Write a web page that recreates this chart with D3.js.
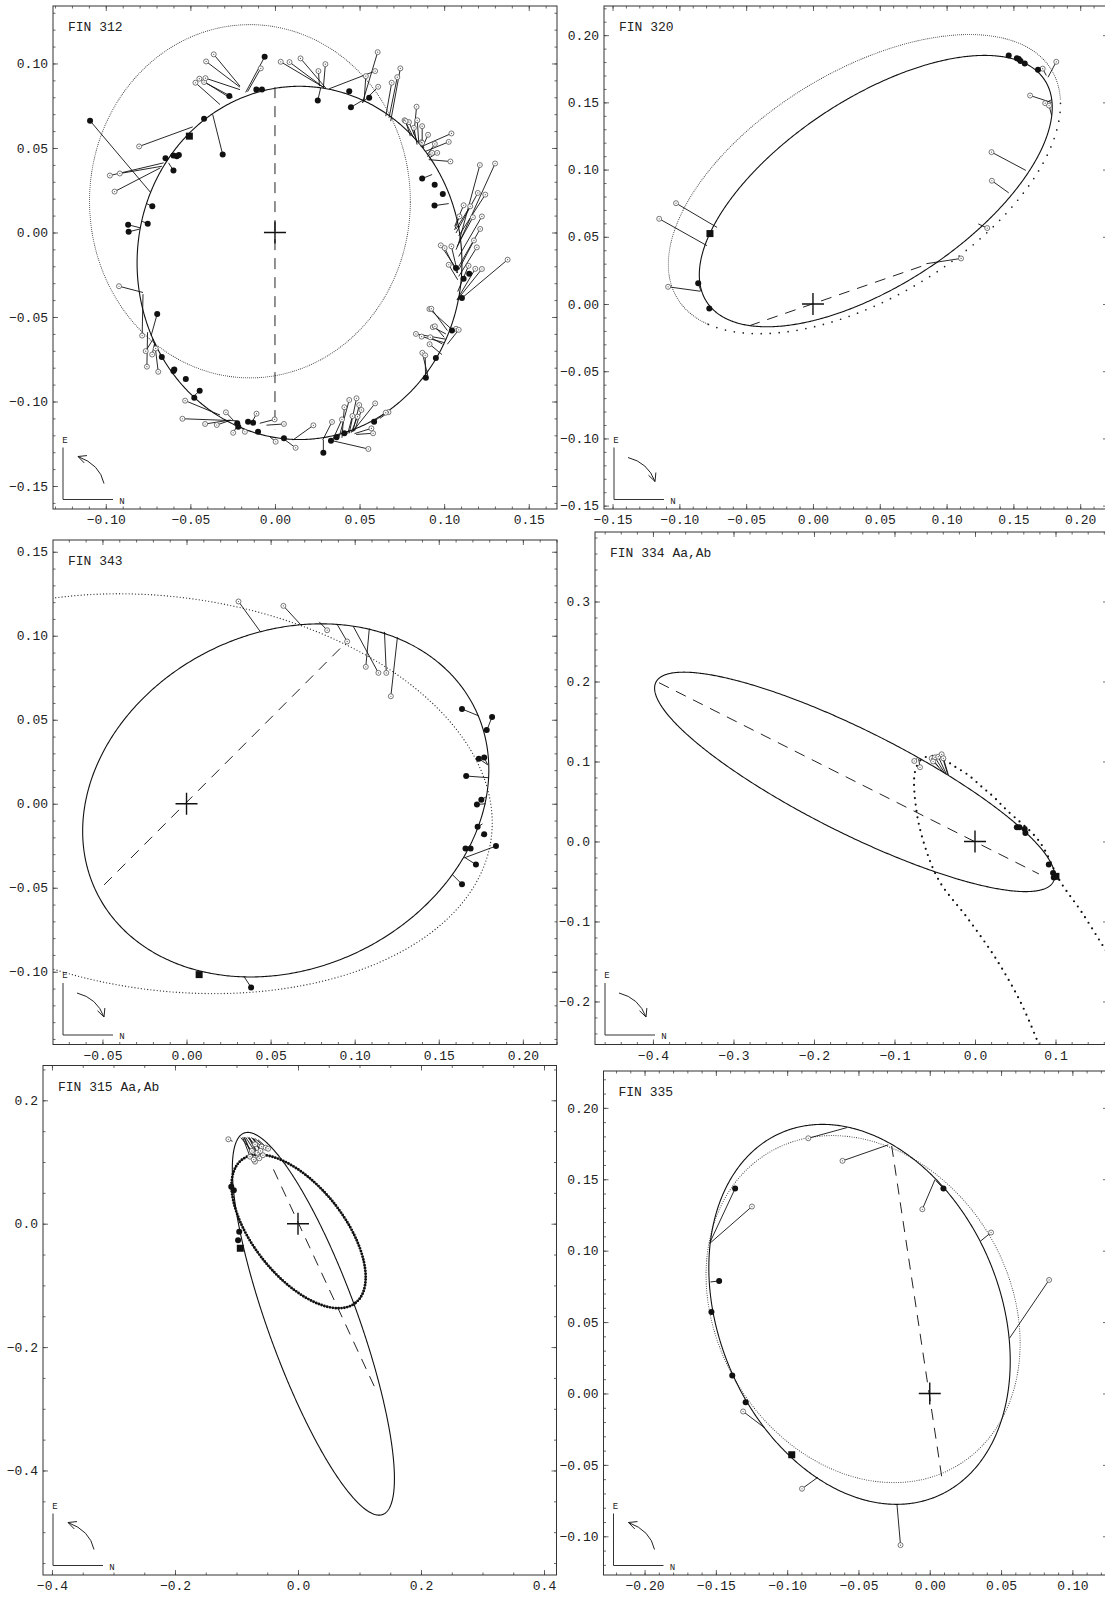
<!DOCTYPE html>
<html>
<head>
<meta charset="utf-8">
<script src="https://cdn.jsdelivr.net/npm/d3@7"></script>
<style>
body { margin: 0; background: #fff; }
text { font-family: "Liberation Mono", "DejaVu Sans Mono", monospace; fill: #222; }
</style>
</head>
<body>
<svg id="fig" width="1105" height="1597"></svg>
<script>
// panel names and axis ranges
var panelNames = ["FIN 312", "FIN 320", "FIN 343", "FIN 334 Aa,Ab", "FIN 315 Aa,Ab", "FIN 335"];
var xRanges = [[-0.1312, 0.1667], [-0.1564, 0.2208], [-0.0794, 0.2203], [-0.472, 0.1652], [-0.4146, 0.4203], [-0.2288, 0.125]];
var yRanges = [[-0.1636, 0.1340], [-0.1525, 0.2217], [-0.1433, 0.157], [-0.2538, 0.3869], [-0.5694, 0.2564], [-0.1271, 0.2258]];

// tick labels
var xTickValues = [
  [-0.10, -0.05, 0, 0.05, 0.10, 0.15],
  [-0.15, -0.10, -0.05, 0, 0.05, 0.10, 0.15, 0.20],
  [-0.05, 0, 0.05, 0.10, 0.15, 0.20],
  [-0.4, -0.3, -0.2, -0.1, 0, 0.1],
  [-0.4, -0.2, 0, 0.2, 0.4],
  [-0.20, -0.15, -0.10, -0.05, 0, 0.05, 0.10]
];
var yTickValues = [
  [-0.15, -0.10, -0.05, 0, 0.05, 0.10],
  [-0.15, -0.10, -0.05, 0, 0.05, 0.10, 0.15, 0.20],
  [-0.10, -0.05, 0, 0.05, 0.10, 0.15],
  [-0.2, -0.1, 0, 0.1, 0.2, 0.3],
  [-0.4, -0.2, 0, 0.2],
  [-0.10, -0.05, 0, 0.05, 0.10, 0.15, 0.20]
];
var minorSteps = [0.01, 0.01, 0.01, 0.02, 0.05, 0.01];
var labelDigits = [2, 2, 2, 1, 1, 2];

// apparent orbits: [cx, cy, semi-axis a, semi-axis b, angle deg]
var newOrbit = [
  [0.0145, -0.018, 0.096, 0.1045, 0],
  [0.047, 0.084, 0.151, 0.0695, 33.1],
  [0.059, 0.002, 0.1251, 0.0999, 25.7],
  [-0.1495, 0.0745, 0.2765, 0.0641, -26.8],
  [0.025, -0.1622, 0.329, 0.073, -70],
  [-0.04925, 0.0554, 0.1385, 0.0984, -66.7]
];
var oldOrbit = [
  [-0.0148, 0.0185, 0.0948, 0.1045, 0],
  [0.0385, 0.0892, 0.1638, 0.0842, 31.2],
  [-0.012, 0.006, 0.195, 0.117, -8],
  null,
  [0.001, -0.0125, 0.1483, 0.0735, -51.3],
  [-0.04675, 0.0591, 0.128, 0.1025, -58.3]
];
// previous orbit of FIN 334, only its inner part is in the frame
var oldTrace334 = [[0.0794, -0.254], [0.0573, -0.2023], [0.0265, -0.1473], [-0.0088, -0.0965], [-0.0441, -0.0499],
  [-0.0617, -0.0076], [-0.0728, 0.0389], [-0.0745, 0.0873], [-0.066, 0.103], [-0.05, 0.107], [-0.0332, 0.099],
  [-0.0248, 0.0935], [-0.0083, 0.083], [0.0083, 0.0685], [0.0228, 0.056], [0.0397, 0.0389], [0.0794, 0.0008],
  [0.1058, -0.0499], [0.1323, -0.088], [0.1588, -0.1303], [0.17, -0.148]];

// line of nodes [x1, y1, x2, y2]
var nodeLine = [
  [0, 0.086, 0, -0.1165],
  [-0.0477, -0.0162, 0.0862, 0.0298],
  [-0.049, -0.0483, 0.0955, 0.0966],
  [-0.3925, 0.1985, 0.0794, -0.0406],
  [-0.0399, 0.088, 0.1273, -0.2706],
  [-0.0267, 0.1733, 0.0091, -0.063]
];
var motion = ["ccw", "cw", "cw", "cw", "ccw", "ccw"];

// observations [x, y, orbit x, orbit y]
var open312 = [
  [-0.0362,0.1054,-0.0207,0.0866],[-0.0407,0.1012,-0.0207,0.0860],[-0.0470,0.0886,-0.0325,0.0757],[-0.0447,0.0910,-0.0266,0.0797],
  [-0.0419,0.0890,-0.0250,0.0800],[-0.0411,0.0913,-0.0207,0.0845],[-0.0084,0.0971,-0.0162,0.0833],[-0.0803,0.0509,-0.0486,0.0625],
  [-0.0976,0.0337,-0.0658,0.0412],[-0.0917,0.0349,-0.0668,0.0392],[-0.0948,0.0242,-0.0678,0.0382],[-0.0922,-0.0318,-0.0780,-0.0355],
  [-0.0785,-0.0610,-0.0780,-0.0365],[-0.0757,-0.0794,-0.0753,-0.0590],[-0.0764,-0.0702,-0.0720,-0.0630],[-0.0726,-0.0722,-0.0710,-0.0650],
  [-0.0690,-0.0824,-0.0710,-0.0660],[-0.0705,-0.0686,-0.0720,-0.0630],
  [0.0034,0.1010,0.0292,0.0856],[0.0086,0.1008,0.0290,0.0856],[0.0151,0.1030,0.0300,0.0855],[0.0257,0.0955,0.0263,0.0866],
  [0.0298,0.0996,0.0286,0.0856],[0.0607,0.1067,0.0517,0.0767],[0.0592,0.0955,0.0320,0.0850],[0.0610,0.0862,0.0517,0.0767],
  [0.0537,0.0925,0.0527,0.0777],[0.0690,0.0886,0.0655,0.0688],[0.0723,0.0919,0.0674,0.0679],[0.0741,0.0971,0.0684,0.0659],
  [0.0837,0.0744,0.0821,0.0580],[0.0766,0.0664,0.0820,0.0560],[0.0792,0.0653,0.0840,0.0540],[0.0841,0.0664,0.0850,0.0530],
  [0.0870,0.0629,0.0870,0.0510],[0.0821,0.0619,0.0840,0.0520],[0.0866,0.0534,0.0880,0.0500],[0.1043,0.0586,0.0870,0.0510],
  [0.1027,0.0536,0.0890,0.0480],[0.0905,0.0578,0.0870,0.0500],[0.0945,0.0524,0.0900,0.0460],[0.1037,0.0420,0.0909,0.0431],
  [0.0959,0.0471,0.0910,0.0440],[0.0929,0.0471,0.0900,0.0450],[0.0870,0.0530,0.0860,0.0510],[0.0772,0.0659,0.0800,0.0570],
  [0.1211,0.0399,0.1086,-0.0062],[0.1301,0.0408,0.1070,-0.0102],[0.1199,0.0234,0.1070,-0.0003],[0.1243,0.0224,0.1086,-0.0020],
  [0.1115,0.0161,0.1062,0.0036],[0.1154,0.0155,0.1070,0.0020],[0.1090,0.0095,0.1062,0.0015],[0.1170,0.0090,0.1076,-0.0082],
  [0.1223,0.0095,0.1086,-0.0142],[0.1213,0.0021,0.1086,-0.0201],[0.1176,-0.0047,0.1086,-0.0221],[0.1193,-0.0088,0.1086,-0.0260],
  [0.0980,-0.0076,0.1076,-0.0220],[0.1003,-0.0092,0.1076,-0.0240],[0.1043,-0.0082,0.1080,-0.0240],[0.1027,-0.0191,0.1080,-0.0280],
  [0.1184,-0.0215,0.1076,-0.0398],[0.1223,-0.0216,0.1076,-0.0400],[0.1375,-0.0161,0.1105,-0.0388],[0.1144,-0.0197,0.1080,-0.0350],
  [0.0913,-0.0453,0.1037,-0.0566],[0.0933,-0.0560,0.1010,-0.0600],[0.1070,-0.0570,0.1030,-0.0580],
  [0.0924,-0.0451,0.1019,-0.0580],[0.0945,-0.0555,0.1000,-0.0620],[0.1086,-0.0576,0.1019,-0.0661],[0.0833,-0.0600,0.1008,-0.0631],
  [0.0867,-0.0616,0.0998,-0.0651],[0.0918,-0.0620,0.0990,-0.0660],[0.0914,-0.0661,0.0987,-0.0722],[0.0871,-0.0712,0.0903,-0.0845],
  [0.0888,-0.0727,0.0890,-0.0855],[0.0671,-0.1063,0.0620,-0.1100],
  [-0.0531,-0.0995,-0.0325,-0.1080],[-0.0547,-0.1102,-0.0227,-0.1114],[-0.0413,-0.1133,-0.0266,-0.1110],[-0.0344,-0.1139,-0.0260,-0.1110],
  [-0.0290,-0.1064,-0.0247,-0.1110],[-0.0247,-0.1185,-0.0220,-0.1140],[-0.0178,-0.1179,-0.0200,-0.1150],[-0.0109,-0.1072,-0.0139,-0.1129],
  [-0.0002,-0.1106,-0.0090,-0.1129],[0.0053,-0.1133,-0.0050,-0.1140],[0.0004,-0.1238,-0.0031,-0.1208],[0.0122,-0.1274,0.0047,-0.1218],
  [0.0227,-0.1141,0.0106,-0.1228],[0.0337,-0.1121,0.0282,-0.1228],[0.0396,-0.1106,0.0341,-0.1228],[0.0439,-0.0991,0.0380,-0.1208],
  [0.0482,-0.0981,0.0439,-0.1188],[0.0410,-0.1034,0.0396,-0.1215],[0.0498,-0.1021,0.0460,-0.1180],[0.0511,-0.1050,0.0470,-0.1175],
  [0.0592,-0.1011,0.0458,-0.1179],[0.0655,-0.1066,0.0596,-0.1110],[0.0570,-0.1159,0.0470,-0.1190],[0.0580,-0.1188,0.0480,-0.1195],
  [0.0552,-0.1281,0.0322,-0.1228],[0.0488,-0.1090,0.0450,-0.1185],[0.0458,-0.1086,0.0430,-0.1190]
];
var filled312 = [
  [-0.1093,0.0661,-0.0736,0.0238],[-0.0061,0.1039,-0.0173,0.0829],[-0.0270,0.0807,-0.0262,0.0800],[-0.0110,0.0846,-0.0110,0.0846],
  [-0.0077,0.0846,-0.0077,0.0846],[-0.0419,0.0673,-0.0419,0.0673],[-0.0309,0.0461,-0.0368,0.0698],[-0.0647,0.0439,-0.0647,0.0439],
  [-0.0600,0.0455,-0.0610,0.0440],[-0.0580,0.0451,-0.0600,0.0445],[-0.0568,0.0459,-0.0590,0.0450],[-0.0600,0.0366,-0.0629,0.0412],
  [-0.0725,0.0155,-0.0760,0.0171],[-0.0868,0.0046,-0.0795,0.0027],[-0.0752,0.0052,-0.0785,0.0066],[-0.0865,0.0004,-0.0800,0.0020],
  [-0.0696,-0.0482,-0.0732,-0.0610],[-0.0669,-0.0737,-0.0680,-0.0720],[-0.0595,-0.0810,-0.0610,-0.0800],[-0.0527,-0.0867,-0.0540,-0.0880],
  [-0.0445,-0.0937,-0.0472,-0.0961],[-0.0477,-0.0978,-0.0480,-0.0970],[-0.0600,-0.0819,-0.0600,-0.0819],[-0.0223,-0.1129,-0.0223,-0.1129],
  [-0.0217,-0.1149,-0.0217,-0.1149],[-0.0159,-0.1120,-0.0159,-0.1120],[-0.0129,-0.1126,-0.0129,-0.1126],[-0.0100,-0.1179,-0.0100,-0.1179],
  [0.0053,-0.1218,0.0053,-0.1218],[0.0286,-0.1303,0.0286,-0.1228],[0.0331,-0.1232,0.0331,-0.1232],[0.0364,-0.1212,0.0364,-0.1212],
  [0.0410,-0.1188,0.0410,-0.1188],[0.0586,-0.1120,0.0586,-0.1120],[0.0892,-0.0859,0.0892,-0.0859],[0.0951,-0.0743,0.0951,-0.0743],
  [0.1046,-0.0580,0.1046,-0.0580],[0.1070,-0.0210,0.1070,-0.0210],[0.1148,-0.0244,0.1148,-0.0244],[0.1115,-0.0274,0.1115,-0.0274],
  [0.1105,-0.0388,0.1105,-0.0388],[0.0870,0.0319,0.0929,0.0343],[0.0944,0.0283,0.0944,0.0283],[0.0992,0.0228,0.0992,0.0228],
  [0.0943,0.0159,0.1027,0.0171],[0.0253,0.0781,0.0270,0.0855],[0.0439,0.0836,0.0439,0.0836],[0.0449,0.0741,0.0527,0.0787],
  [0.0557,0.0797,0.0557,0.0797]
];
var square312 = [[-0.0506, 0.057]];

var open320 = [
  [-0.1025,0.0750,-0.0718,0.0570],[-0.1151,0.0634,-0.0793,0.0434],[-0.1084,0.0128,-0.0843,0.0095],[0.1719,0.1751,0.1746,0.1700],
  [0.1821,0.1802,0.1759,0.1687],[0.1625,0.1551,0.1786,0.1499],[0.1738,0.1494,0.1786,0.1520],[0.1767,0.1476,0.1786,0.1404],
  [0.1336,0.1130,0.1593,0.0994],[0.1339,0.0917,0.1465,0.0827],[0.1304,0.0565,0.1237,0.0596],[0.1108,0.0339,0.0849,0.0300]
];
var filled320 = [
  [0.1465,0.1849,0.1465,0.1849],[0.1526,0.1828,0.1526,0.1828],[0.1540,0.1823,0.1540,0.1823],[0.1553,0.1807,0.1553,0.1807],
  [0.1585,0.1790,0.1585,0.1790],[0.1684,0.1743,0.1684,0.1743],[-0.0859,0.0154,-0.0838,0.0095],[-0.0776,-0.0033,-0.0776,-0.0033]
];
var square320 = [[-0.0771, 0.0524]];

var open343 = [
  [0.0309,0.1204,0.0437,0.1027],[0.0576,0.1178,0.0678,0.1067],[0.0836,0.1033,0.0789,0.1083],[0.0955,0.0966,0.0896,0.1067],
  [0.1066,0.0815,0.1087,0.1043],[0.1141,0.0779,0.0991,0.1057],[0.1188,0.0779,0.1177,0.1023],[0.1215,0.0640,0.1254,0.0991]
];
var filled343 = [
  [0.1638,0.0564,0.1738,0.0523],[0.1817,0.0517,0.1780,0.0423],[0.1785,0.0439,0.1785,0.0439],[0.1738,0.0268,0.1791,0.0232],
  [0.1770,0.0276,0.1791,0.0232],[0.1663,0.0165,0.1795,0.0155],[0.1753,0.0024,0.1780,0.0040],[0.1727,-0.0004,0.1780,0.0000],
  [0.1731,-0.0137,0.1760,-0.0120],[0.1770,-0.0181,0.1750,-0.0190],[0.1659,-0.0266,0.1700,-0.0280],[0.1689,-0.0266,0.1700,-0.0280],
  [0.1721,-0.0362,0.1652,-0.0318],[0.1840,-0.0252,0.1652,-0.0322],[0.1638,-0.0479,0.1582,-0.0423],[0.0384,-0.1093,0.0341,-0.1027]
];
var square343 = [[0.0075, -0.1017]];

var open334 = [
  [-0.0754,0.1006,-0.0714,0.1042],[-0.0683,0.0928,-0.0700,0.1035],[-0.0538,0.1040,-0.0410,0.0880],[-0.0497,0.1052,-0.0380,0.0860],
  [-0.0456,0.1060,-0.0360,0.0850],[-0.0414,0.1090,-0.0340,0.0840],[-0.0393,0.1040,-0.0330,0.0830],[-0.0520,0.1000,-0.0450,0.0930]
];
var filled334 = [
  [0.0520,0.0178,0.0520,0.0178],[0.0551,0.0178,0.0551,0.0178],[0.0617,0.0157,0.0617,0.0157],[0.0626,0.0106,0.0626,0.0106],
  [0.0917,-0.0288,0.0917,-0.0288],[0.0970,-0.0394,0.0970,-0.0394],[0.0979,-0.0449,0.0979,-0.0449]
];
var square334 = [[0.1005, -0.0436]];

var open315 = [
  [-0.1133,0.1368,-0.1065,0.1335],[-0.0699,0.1287,-0.0820,0.1400],[-0.0590,0.1248,-0.0760,0.1395],[-0.0525,0.1232,-0.0700,0.1380],
  [-0.0780,0.1086,-0.0900,0.1400],[-0.0646,0.1086,-0.0850,0.1400],[-0.0699,0.1005,-0.0870,0.1400],[-0.0629,0.1060,-0.0800,0.1395],
  [-0.0720,0.1040,-0.0880,0.1400],[-0.0570,0.1110,-0.0740,0.1390],[-0.0485,0.1215,-0.0650,0.1360],[-0.0750,0.1180,-0.0930,0.1395],
  [-0.0660,0.1150,-0.0790,0.1398],[-0.0610,0.1180,-0.0720,0.1385]
];
var filled315 = [
  [-0.1085,0.0599,-0.1085,0.0599],[-0.1044,0.0543,-0.1044,0.0543],[-0.0956,-0.0129,-0.0956,-0.0129],[-0.0974,-0.0269,-0.0974,-0.0269]
];
var square315 = [[-0.0938, -0.0398]];

var open335 = [
  [-0.0852,0.1787,-0.0580,0.1862],[-0.0612,0.1629,-0.0291,0.1741],[-0.1247,0.1309,-0.1538,0.1055],[-0.0052,0.1290,0.0037,0.1498],
  [0.0430,0.1127,0.0356,0.1067],[0.0837,0.0795,0.0560,0.0388],[-0.1309,-0.0126,-0.1156,-0.0242],[-0.0896,-0.0667,-0.0785,-0.0587],
  [-0.0205,-0.1062,-0.0230,-0.0776]
];
var filled335 = [
  [-0.1365,0.1435,-0.1545,0.1050],[-0.1477,0.0788,-0.1538,0.0781],[-0.1531,0.0570,-0.1531,0.0570],[-0.1385,0.0126,-0.1385,0.0126],
  [-0.1291,-0.0061,-0.1291,-0.0061],[0.0096,0.1435,0.0042,0.1491]
];
var square335 = [[-0.0968, -0.0429]];

var openObs = [open312, open320, open343, open334, open315, open335];
var filledObs = [filled312, filled320, filled343, filled334, filled315, filled335];
var squareObs = [square312, square320, square343, square334, square315, square335];

// layout and styles
var frames = [
  { x0: 53, x1: 557, y0: 6, y1: 509 },
  { x0: 604, x1: 1108, y0: 6, y1: 509 },
  { x0: 53, x1: 557, y0: 540, y1: 1044.5 },
  { x0: 595, x1: 1108, y0: 532, y1: 1044.5 },
  { x0: 43, x1: 556.5, y0: 1065.5, y1: 1575 },
  { x0: 603.5, x1: 1108, y0: 1071, y1: 1575 }
];
// dotted old orbit arcs: [t0, t1, dot size, spacing, color]
var dotStyle = [
  [[0, 360, 1.1, 2.0, "#444"]],
  [[-160, -15, 1.7, 9, "#222"], [-15, 200, 1.1, 2.0, "#444"]],
  [[0, 360, 1.3, 3.2, "#333"]],
  [],
  [[0, 360, 2.9, 2.9, "#111"]],
  [[0, 360, 1.1, 2.3, "#444"]]
];

var svg = d3.select("#fig");
svg.append("rect").attr("width", 1105).attr("height", 1597).attr("fill", "#fff");

function ellipsePoints(e, t0, t1) {
  var phi = e[4] * Math.PI / 180, c = Math.cos(phi), s = Math.sin(phi);
  return d3.range(t0, t1 + 0.001, 0.5).map(function (td) {
    var t = td * Math.PI / 180, u = e[2] * Math.cos(t), v = e[3] * Math.sin(t);
    return [e[0] + u * c - v * s, e[1] + u * s + v * c];
  });
}

function minorTicks(dom, step) {
  var lo = Math.ceil(dom[0] / step - 1e-9), hi = Math.floor(dom[1] / step + 1e-9);
  return d3.range(lo, hi + 1).map(function (k) { return +(k * step).toFixed(6); });
}

panelNames.forEach(function (name, i) {
  var f = frames[i];
  var x = d3.scaleLinear().domain(xRanges[i]).range([f.x0, f.x1]);
  var y = d3.scaleLinear().domain(yRanges[i]).range([f.y1, f.y0]);
  var g = svg.append("g");
  var fmt = function (d) { return d3.format("." + labelDigits[i] + "f")(d); };

  g.append("clipPath").attr("id", "clip" + i)
    .append("rect").attr("x", f.x0).attr("y", f.y0).attr("width", f.x1 - f.x0).attr("height", f.y1 - f.y0);

  // axes: inward ticks on all four sides, labels left and bottom
  var mx = minorTicks(xRanges[i], minorSteps[i]);
  var my = minorTicks(yRanges[i], minorSteps[i]);
  function styleAxis(sel) {
    sel.select(".domain").remove();
    sel.selectAll(".tick line").attr("stroke", "#444").attr("stroke-width", 0.8);
    sel.selectAll("text").attr("font-family", "Liberation Mono").attr("font-size", 13).attr("fill", "#222");
  }
  g.append("g").attr("transform", "translate(0," + f.y1 + ")")
    .call(d3.axisBottom(x).tickValues(mx).tickSize(-2.5).tickFormat("")).call(styleAxis);
  g.append("g").attr("transform", "translate(0," + f.y1 + ")")
    .call(d3.axisBottom(x).tickValues(xTickValues[i]).tickSize(-5).tickPadding(6).tickFormat(fmt)).call(styleAxis);
  g.append("g").attr("transform", "translate(0," + f.y0 + ")")
    .call(d3.axisTop(x).tickValues(mx).tickSize(-2.5).tickFormat("")).call(styleAxis);
  g.append("g").attr("transform", "translate(0," + f.y0 + ")")
    .call(d3.axisTop(x).tickValues(xTickValues[i]).tickSize(-5).tickFormat("")).call(styleAxis);
  g.append("g").attr("transform", "translate(" + f.x0 + ",0)")
    .call(d3.axisLeft(y).tickValues(my).tickSize(-2.5).tickFormat("")).call(styleAxis);
  g.append("g").attr("transform", "translate(" + f.x0 + ",0)")
    .call(d3.axisLeft(y).tickValues(yTickValues[i]).tickSize(-5).tickPadding(5).tickFormat(fmt)).call(styleAxis);
  g.append("g").attr("transform", "translate(" + f.x1 + ",0)")
    .call(d3.axisRight(y).tickValues(my).tickSize(-2.5).tickFormat("")).call(styleAxis);
  g.append("g").attr("transform", "translate(" + f.x1 + ",0)")
    .call(d3.axisRight(y).tickValues(yTickValues[i]).tickSize(-5).tickFormat("")).call(styleAxis);

  g.append("rect").attr("x", f.x0).attr("y", f.y0).attr("width", f.x1 - f.x0).attr("height", f.y1 - f.y0)
    .attr("fill", "none").attr("stroke", "#333").attr("stroke-width", 1);

  var plot = g.append("g").attr("clip-path", "url(#clip" + i + ")");
  var line = d3.line().x(function (d) { return x(d[0]); }).y(function (d) { return y(d[1]); });

  // previous orbit, dotted
  if (oldOrbit[i]) {
    dotStyle[i].forEach(function (a) {
      plot.append("path").attr("d", line(ellipsePoints(oldOrbit[i], a[0], a[1])))
        .attr("fill", "none").attr("stroke", a[4]).attr("stroke-width", a[2])
        .attr("stroke-linecap", "round").attr("stroke-dasharray", "0," + a[3]);
    });
  } else {
    plot.append("path").attr("d", line.curve(d3.curveCatmullRom)(oldTrace334))
      .attr("fill", "none").attr("stroke", "#111").attr("stroke-width", 2.2)
      .attr("stroke-linecap", "round").attr("stroke-dasharray", "0,6.5");
    line.curve(d3.curveLinear);
  }

  // new orbit, solid
  plot.append("path").attr("d", line(ellipsePoints(newOrbit[i], 0, 360)))
    .attr("fill", "none").attr("stroke", "#111").attr("stroke-width", 1.1);

  // line of nodes
  var nl = nodeLine[i];
  plot.append("line").attr("x1", x(nl[0])).attr("y1", y(nl[1])).attr("x2", x(nl[2])).attr("y2", y(nl[3]))
    .attr("stroke", "#222").attr("stroke-width", 1).attr("stroke-dasharray", "11,8");

  // residuals
  var allObs = openObs[i].concat(filledObs[i]);
  plot.selectAll("line.res").data(allObs).enter().append("line").attr("class", "res")
    .attr("x1", function (d) { return x(d[0]); }).attr("y1", function (d) { return y(d[1]); })
    .attr("x2", function (d) { return x(d[2]); }).attr("y2", function (d) { return y(d[3]); })
    .attr("stroke", "#111").attr("stroke-width", 0.9);

  // open circles
  plot.selectAll("circle.op").data(openObs[i]).enter().append("circle").attr("class", "op")
    .attr("cx", function (d) { return x(d[0]); }).attr("cy", function (d) { return y(d[1]); })
    .attr("r", 2.5).attr("fill", "#fff").attr("stroke", "#555").attr("stroke-width", 0.8);
  plot.selectAll("circle.opc").data(openObs[i]).enter().append("circle").attr("class", "opc")
    .attr("cx", function (d) { return x(d[0]); }).attr("cy", function (d) { return y(d[1]); })
    .attr("r", 0.6).attr("fill", "#555");
  // filled dots
  plot.selectAll("circle.fl").data(filledObs[i]).enter().append("circle").attr("class", "fl")
    .attr("cx", function (d) { return x(d[0]); }).attr("cy", function (d) { return y(d[1]); })
    .attr("r", 3).attr("fill", "#111");
  // squares
  plot.selectAll("rect.sq").data(squareObs[i]).enter().append("rect").attr("class", "sq")
    .attr("x", function (d) { return x(d[0]) - 3.5; }).attr("y", function (d) { return y(d[1]) - 3.5; })
    .attr("width", 7).attr("height", 7).attr("fill", "#111");

  // primary star cross
  var ox = x(0), oy = y(0);
  plot.append("path").attr("d", "M" + (ox - 11) + "," + oy + "H" + (ox + 11) + "M" + ox + "," + (oy - 11) + "V" + (oy + 11))
    .attr("stroke", "#111").attr("stroke-width", 1.4).attr("fill", "none");

  // title
  g.append("text").attr("x", f.x0 + 15).attr("y", f.y0 + 25).attr("font-size", 13).text(name);

  // orientation sketch
  var cx0 = f.x0 + 10, cy0 = f.y1 - 9.5;
  g.append("path").attr("d", "M" + cx0 + "," + (cy0 - 52) + "V" + cy0 + "H" + (cx0 + 50))
    .attr("fill", "none").attr("stroke", "#333").attr("stroke-width", 1);
  g.append("text").attr("x", cx0 + 2).attr("y", cy0 - 57).attr("font-size", 9).attr("text-anchor", "middle").text("E");
  g.append("text").attr("x", cx0 + 59).attr("y", cy0 + 4).attr("font-size", 9).attr("text-anchor", "middle").text("N");
  var S, Q, T;
  if (motion[i] === "ccw") { S = [41, -16]; Q = [37, -35]; T = [15, -43]; }
  else { S = [14, -42]; Q = [34, -37]; T = [41, -18]; }
  g.append("path").attr("d", "M" + (cx0 + S[0]) + "," + (cy0 + S[1]) + "Q" + (cx0 + Q[0]) + "," + (cy0 + Q[1]) + " " + (cx0 + T[0]) + "," + (cy0 + T[1]))
    .attr("fill", "none").attr("stroke", "#222").attr("stroke-width", 1);
  var ang = Math.atan2(T[1] - Q[1], T[0] - Q[0]);
  var head = [ang + Math.PI - 0.45, ang + Math.PI + 0.45].map(function (a) {
    return [cx0 + T[0] + 9 * Math.cos(a), cy0 + T[1] + 9 * Math.sin(a)];
  });
  g.append("path").attr("d", "M" + head[0][0] + "," + head[0][1] + "L" + (cx0 + T[0]) + "," + (cy0 + T[1]) + "L" + head[1][0] + "," + head[1][1])
    .attr("fill", "none").attr("stroke", "#222").attr("stroke-width", 1);
});
</script>
</body>
</html>
